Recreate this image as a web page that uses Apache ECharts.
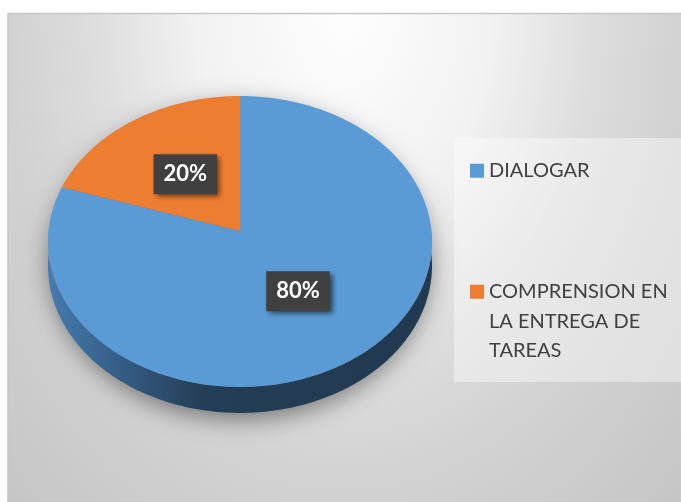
<!DOCTYPE html>
<html>
<head>
<meta charset="utf-8">
<script src="https://cdn.jsdelivr.net/npm/echarts@6/dist/echarts.min.js"></script>
<style>
	html, body { margin: 0; padding: 0; background: #ffffff; }
	#main { width: 681px; height: 502px; }
</style>
</head>
<body>
<div id="main"></div>
<script>
// datos del grafico
var categories = ['DIALOGAR', 'COMPRENSION EN\nLA ENTREGA DE\nTAREAS'];
var values = [80, 20];
var colors = ['#5B9BD5', '#ED7D31'];

// colores del lateral (3D)
var sideStops = [
	[['#477bb0', 0], ['#3a6894', 0.12], ['#243e57', 0.4], ['#223a50', 1]],
	[['#b8621f', 0], ['#a45519', 0.12], ['#7a3f12', 0.4], ['#733b10', 1]]
];

// geometria de la tarta en perspectiva
var geo = { cx: 240, cy: 231, R: 191.5, A: 144.7, k: 0.0722, D: 24.1 };

function proj(deg, r, h) {
	var t = deg * Math.PI / 180;
	var X = r * Math.sin(t), Z = -r * Math.cos(t);
	var s = 1 / (1 - geo.k * Z);
	return [geo.cx + geo.R * X * s, geo.cy + (geo.A * Z + h) * s];
}

function sum(arr) {
	var n = 0;
	for (var i = 0; i < arr.length; i++) n += arr[i];
	return n;
}

/**
 * dibuja una porcion (lateral + cara superior + etiqueta)
 */
function drawSlice(i, api) {
	var total = sum(values);
	var a = sum(values.slice(0, i)) / total * 360;
	var b = a + api.value(0) / total * 360;
	var color = api.visual('color');
	var children = [];

	// lateral visible (mitad delantera)
	var lo = Math.max(a, 90), hi = Math.min(b, 270);
	if (lo < hi) {
		var side = [], t;
		for (t = lo; t < hi; t += 1) side.push(proj(t, 1, 0));
		side.push(proj(hi, 1, 0));
		for (t = hi; t > lo; t -= 1) side.push(proj(t, 1, geo.D));
		side.push(proj(lo, 1, geo.D));
		children.push({
			type: 'polygon',
			shape: { points: side },
			style: {
				fill: {
					type: 'linear', x: 48, y: 0, x2: 432, y2: 0, global: true,
					colorStops: sideStops[i].map(function(s) { return { offset: s[1], color: s[0] }; })
				}
			}
		});
	}

	// cara superior
	var top = [[geo.cx, geo.cy]];
	for (var u = a; u < b; u += 1) top.push(proj(u, 1, 0));
	top.push(proj(b, 1, 0));
	children.push({
		type: 'polygon',
		shape: { points: top },
		style: { fill: color }
	});

	// etiqueta de porcentaje
	var lp = proj((a + b) / 2, 0.5, 0);
	children.push({
		type: 'text',
		x: lp[0],
		y: lp[1],
		style: {
			text: Math.round(api.value(0) / total * 100) + '%',
			fill: '#ffffff',
			font: 'bold 22px Lato',
			align: 'center',
			verticalAlign: 'middle',
			lineHeight: 24,
			backgroundColor: '#404040',
			padding: [8, 10, 8, 10],
			shadowBlur: 5,
			shadowColor: 'rgba(0,0,0,0.55)',
			shadowOffsetX: 3,
			shadowOffsetY: 3
		}
	});

	return { type: 'group', children: children };
}

var chart = echarts.init(document.getElementById('main'));

var series = categories.map(function(name, i) {
	return {
		type: 'custom',
		name: name,
		coordinateSystem: 'none',
		z: 2,
		itemStyle: { color: colors[i] },
		data: [values[i]],
		renderItem: function(params, api) {
			return drawSlice(i, api);
		}
	};
});

var legendText = {
	fontFamily: 'Lato',
	fontSize: 20,
	color: '#404040',
	lineHeight: 29.5
};

var option = {
	animation: false,
	legend: [
		{
			data: [categories[0]],
			orient: 'vertical',
			left: 470,
			top: 156,
			padding: 0,
			icon: 'rect',
			itemWidth: 14,
			itemHeight: 14,
			textStyle: legendText
		},
		{
			// primera linea alineada con el icono
			data: [categories[1]],
			orient: 'vertical',
			left: 470,
			top: 218,
			padding: 0,
			icon: 'rect',
			itemWidth: 14,
			itemHeight: 14,
			formatter: function(name) {
				return '\n\n' + name;
			},
			textStyle: legendText
		}
	],
	graphic: [
		// fondo con degradado radial
		{
			type: 'rect',
			x: 8,
			y: 13,
			scaleX: 0.7144,
			z: -10,
			silent: true,
			shape: { x: 0, y: 0, width: 942, height: 489 },
			style: {
				fill: {
					type: 'radial', x: 0.5, y: 0, r: 1.374,
					colorStops: [
						{ offset: 0, color: '#fefefe' },
						{ offset: 0.3, color: '#f2f2f2' },
						{ offset: 0.52, color: '#dddddd' },
						{ offset: 0.7, color: '#d2d2d2' },
						{ offset: 1, color: '#c6c6c6' }
					]
				}
			}
		},
		// borde
		{
			type: 'rect',
			z: -9,
			silent: true,
			shape: { x: 8, y: 13.5, width: 680, height: 500 },
			style: { fill: 'none', stroke: '#c6c6c6', lineWidth: 1.5 }
		},
		// caja de la leyenda
		{
			type: 'rect',
			z: -8,
			silent: true,
			shape: { x: 454, y: 138, width: 227, height: 244 },
			style: { fill: 'rgba(255,255,255,0.4)' }
		},
		// sombra de la tarta (la elipse queda oculta detras)
		{
			type: 'ellipse',
			z: 1,
			silent: true,
			shape: { cx: 240, cy: 255, rx: 190, ry: 156 },
			style: {
				fill: '#6a6a6a',
				shadowBlur: 26,
				shadowOffsetY: 7,
				shadowColor: 'rgba(0,0,0,0.5)'
			}
		}
	],
	series: series
};

chart.setOption(option);
</script>
</body>
</html>
